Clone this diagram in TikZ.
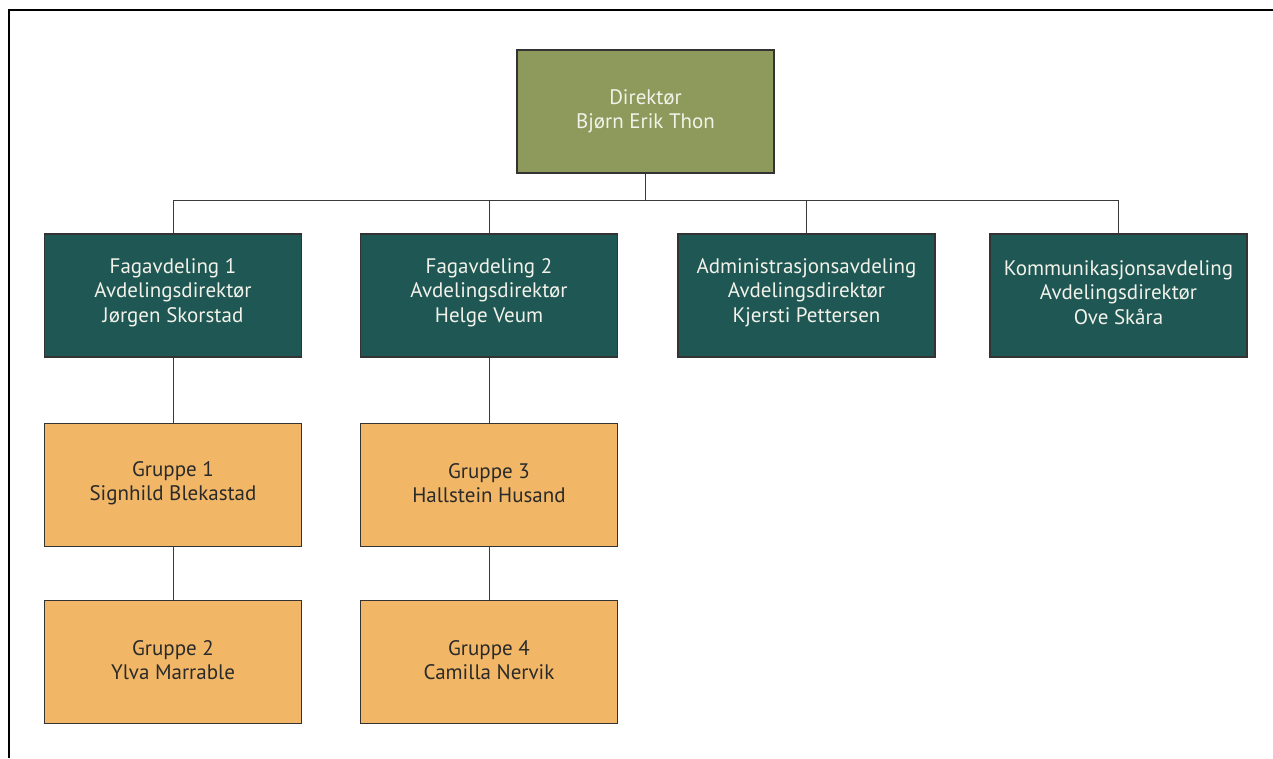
\documentclass[tikz,border=0pt]{standalone}
\usepackage{fontspec}
\setmainfont{PT Sans}
\definecolor{dircol}{HTML}{8D9A5B}
\definecolor{depcol}{HTML}{1E5753}
\definecolor{grpcol}{HTML}{F2B766}
\definecolor{boxline}{HTML}{333333}
\definecolor{linecol}{HTML}{3A3A3A}
\definecolor{lighttext}{HTML}{F2F2EA}
\definecolor{darktext}{HTML}{2A2A2A}
\begin{document}
\begin{tikzpicture}[x=1pt,y=-1pt,
  box/.style={rectangle,draw=boxline,line width=1.2pt,minimum width=257pt,minimum height=123pt,inner sep=0pt},
  txt/.style={align=center,inner sep=0pt,font=\fontsize{21}{24.5}\selectfont},
  dirbox/.style={box,fill=dircol,label={[txt,text=lighttext]center:{#1}}},
  depbox/.style={box,fill=depcol,label={[txt,text=lighttext,yshift=3pt]center:{#1}}},
  grpbox/.style={box,fill=grpcol,label={[txt,text=darktext,yshift=2pt]center:{#1}}},
  conn/.style={draw=linecol,line width=0.9pt}]
\useasboundingbox (0,0) rectangle (1273,758);
\draw[line width=2pt] (8.5,758) -- (8.5,10) -- (1273,10);
\node[dirbox={Direktør\\Bjørn Erik Thon}] (dir) at (645.5,111.5) {};
\node[depbox={Fagavdeling 1\\Avdelingsdirektør\\Jørgen Skorstad}] (d1) at (173,295.5) {};
\node[depbox={Fagavdeling 2\\Avdelingsdirektør\\Helge Veum}] (d2) at (489,295.5) {};
\node[depbox={Administrasjonsavdeling\\Avdelingsdirektør\\Kjersti Pettersen}] (d3) at (806.5,295.5) {};
\node[depbox={Kommunikasjonsavdeling\\Avdelingsdirektør\\Ove Skåra}] (d4) at (1118.5,295.5) {};
\node[grpbox={Gruppe 1\\Signhild Blekastad}] (g1) at (173,485) {};
\node[grpbox={Gruppe 3\\Hallstein Husand}] (g3) at (489,485) {};
\node[grpbox={Gruppe 2\\Ylva Marrable}] (g2) at (173,662) {};
\node[grpbox={Gruppe 4\\Camilla Nervik}] (g4) at (489,662) {};
\coordinate (bus) at (645.5,200);
\draw[conn] (dir.south) -- (bus);
\draw[conn] (d1.north) -- (d1.north |- bus) -| (d4.north);
\draw[conn] (d2.north) -- (d2.north |- bus);
\draw[conn] (d3.north) -- (d3.north |- bus);
\draw[conn] (d1.south) -- (g1.north);
\draw[conn] (g1.south) -- (g2.north);
\draw[conn] (d2.south) -- (g3.north);
\draw[conn] (g3.south) -- (g4.north);
\end{tikzpicture}
\end{document}
